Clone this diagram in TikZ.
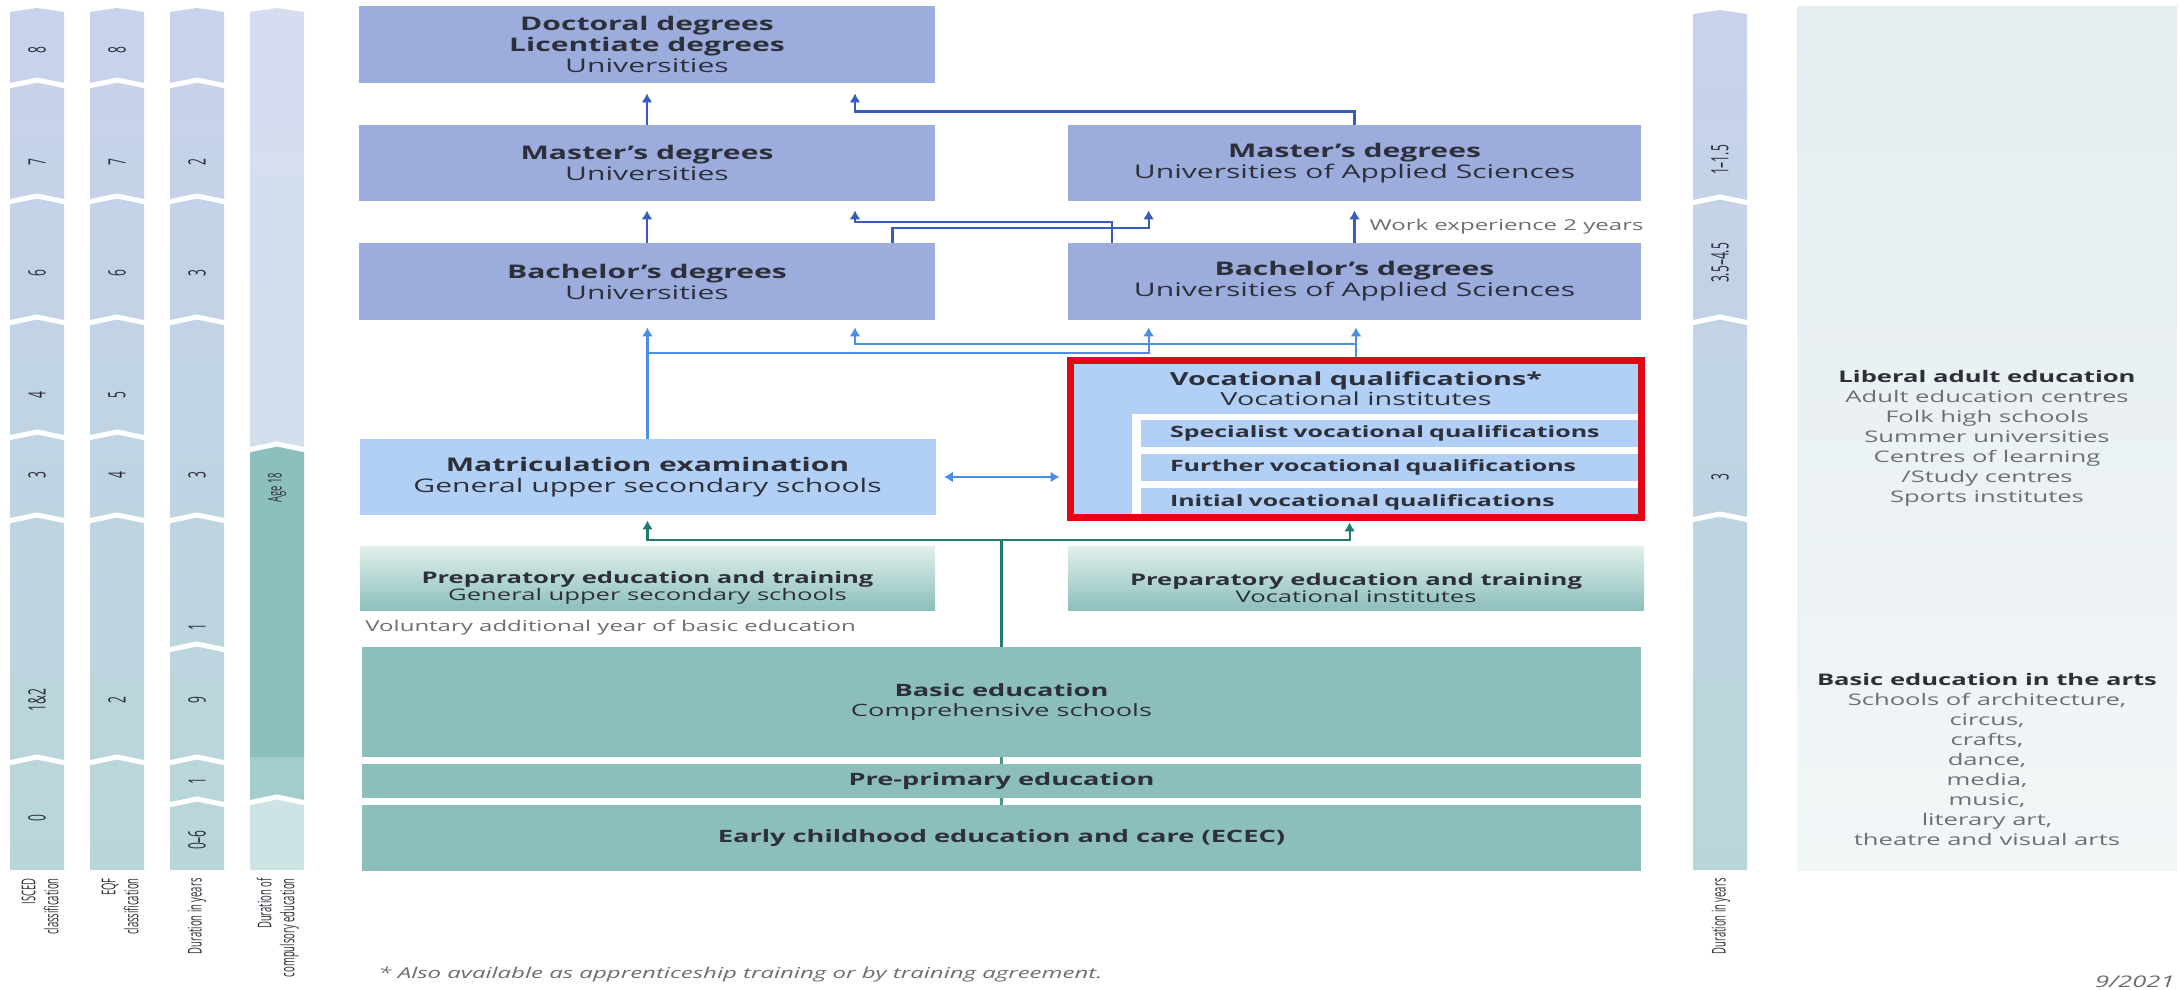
\documentclass[tikz,border=0pt]{standalone}
\usepackage{fontspec}
\setmainfont[FakeStretch=1.6]{Open Sans}
\newfontfamily\rotfont[FakeStretch=0.5]{Open Sans}
\usetikzlibrary{arrows.meta,calc,positioning}

\definecolor{ublue}{RGB}{156,173,221}
\definecolor{lblue}{RGB}{178,208,246}
\definecolor{basicteal}{RGB}{140,190,188}
\definecolor{prepTop}{RGB}{225,240,236}
\definecolor{prepBot}{RGB}{141,191,188}
\definecolor{arrD}{RGB}{55,92,190}
\definecolor{arrL}{RGB}{72,142,228}
\definecolor{arrG}{RGB}{32,122,110}
\definecolor{vred}{RGB}{227,6,19}
\definecolor{colTop}{RGB}{200,210,237}
\definecolor{colBot}{RGB}{184,214,217}
\definecolor{compTop}{RGB}{215,221,241}
\definecolor{compBot}{RGB}{207,224,230}
\definecolor{compDark}{RGB}{142,191,191}
\definecolor{compMed}{RGB}{163,204,204}
\definecolor{compLight}{RGB}{205,227,228}
\definecolor{panelTop}{RGB}{229,237,240}
\definecolor{panelBot}{RGB}{241,246,247}
\definecolor{txt}{RGB}{45,48,58}
\definecolor{greytxt}{RGB}{110,110,115}

\begin{document}
\begin{tikzpicture}[x=0.5pt,y=-0.5pt,
  ubox/.style={fill=ublue, minimum width=288pt, minimum height=38.5pt, inner sep=0pt,
    align=center, text=txt, font=\fontsize{9.4}{10.5}\selectfont},
  lbox/.style={ubox, fill=lblue},
  prepbox/.style={top color=prepTop, bottom color=prepBot, minimum width=287.5pt,
    minimum height=32pt, inner sep=0pt},
  preptext/.style={align=center, text=txt, inner sep=0pt, font=\fontsize{8}{8.8}\selectfont},
  tbox/.style={fill=basicteal, minimum width=639.5pt, inner sep=0pt, align=center,
    text=txt, font=\fontsize{8.5}{10}\selectfont},
  subrow/.style={fill=lblue, minimum width=250pt, minimum height=13.5pt, text width=221pt,
    align=left, inner xsep=0pt, inner ysep=0pt, text=txt, font=\fontsize{7.8}{9}\selectfont\bfseries},
  note/.style={text=greytxt, inner sep=0pt, font=\fontsize{7.5}{9}\selectfont},
  ptext/.style={align=center, text=greytxt, inner sep=0pt, font=\fontsize{8}{10}\selectfont},
  colnum/.style={rotate=90, inner sep=0pt, text=txt, font=\rotfont\fontsize{12}{12}\selectfont},
  collab/.style={rotate=90, anchor=east, align=right, inner sep=0pt, text=txt,
    font=\rotfont\fontsize{9.5}{11.5}\selectfont},
  chev/.style={white, line width=2.5pt},
  darr/.style={draw=arrD, line width=1.1pt, -{Latex[length=4.5pt,width=5.5pt]}},
  larr/.style={draw=arrL, line width=1.1pt, -{Latex[length=4.5pt,width=5.5pt]}},
  garr/.style={draw=arrG, line width=1.1pt, -{Latex[length=4.5pt,width=5.5pt]}}]

\useasboundingbox (0,0) rectangle (2179,990);

% scales on the left
\foreach \cx/\bl in {37/{83,199,320,435,518,760},117/{83,199,320,435,518,760},197/{83,199,320,518,647,760,802}}{
  \shade[top color=colTop, bottom color=colBot] ({\cx-27},12) -- (\cx,8) -- ({\cx+27},12) -- ({\cx+27},870) -- ({\cx-27},870) -- cycle;
  \foreach \b in \bl
    \draw[chev] ({\cx-29},{\b+3}) -- (\cx,{\b-3}) -- ({\cx+29},{\b+3});
}
% compulsory education
\shade[top color=compTop, bottom color=compBot] (250,12) -- (277,8) -- (304,12) -- (304,870) -- (250,870) -- cycle;
\fill[compDark] (250,450) -- (277,444) -- (304,450) -- (304,757) -- (250,757) -- cycle;
\fill[compMed] (250,757) rectangle (304,800);
\fill[compLight] (250,800) rectangle (304,870);
\draw[chev] (248,450) -- (277,444) -- (306,450);
\draw[chev] (248,803) -- (277,797) -- (306,803);

\foreach \y/\t [count=\i] in {50/8,162/7,273/6,395/4,475/3,700/1\&2,818/0}
  \node[colnum] (isced\i) at (37,\y) {\t};
\foreach \y/\t [count=\i] in {50/8,162/7,273/6,395/5,475/4,700/2}
  \node[colnum] (eqf\i) at (117,\y) {\t};
\foreach \y/\t [count=\i] in {162/2,273/3,475/3,627/1,700/9,781/1,840/0–6}
  \node[colnum] (dur\i) at (197,\y) {\t};
\node[colnum, font=\rotfont\fontsize{9.5}{10}\selectfont] (age) at (277,488) {Age 18};

\node[collab] (iscedL) at (40,878) {ISCED\\classification};
\node[collab] (eqfL) at (120,878) {EQF\\classification};
\node[collab] (durL) at (197,878) {Duration in years};
\node[collab] (compL) at (278,878) {Duration of\\compulsory education};

% scale on the right
\shade[top color=colTop, bottom color=colBot] (1693,14) -- (1720,10) -- (1747,14) -- (1747,870) -- (1693,870) -- cycle;
\foreach \b in {200,320,517}
  \draw[chev] (1691,{\b+3}) -- (1720,{\b-3}) -- (1749,{\b+3});
\foreach \y/\t [count=\i] in {160/1–1.5,263/3.5–4.5,477/3}
  \node[colnum] (yrs\i) at (1720,\y) {\t};
\node[collab] (yrsL) at (1721,878) {Duration in years};

% adult education panel
\shade[top color=panelTop, bottom color=panelBot] (1797,7) rectangle (2177,870);
\node[ptext] (liberal) at (1987,438) {{\color{txt}\textbf{Liberal adult education}}\\Adult education centres\\
  Folk high schools\\Summer universities\\Centres of learning\\/Study centres\\Sports institutes};
\node[ptext] (arts) at (1987,759) {{\color{txt}\textbf{Basic education in the arts}}\\Schools of architecture,\\
  circus,\\crafts,\\dance,\\media,\\music,\\literary art,\\theatre and visual arts};

% higher education
\node[ubox] (doc) at (647,44.5) {\textbf{Doctoral degrees}\\\textbf{Licentiate degrees}\\Universities};
\node[ubox, minimum height=38pt] (mastU) at (647,163) {\textbf{Master’s degrees}\\Universities};
\node[ubox, minimum height=38pt, minimum width=286.5pt] (mastUAS) at (1354.5,163)
  {\textbf{Master’s degrees}\\Universities of Applied Sciences};
\node[ubox] (bachU) at (647,281.5) {\textbf{Bachelor’s degrees}\\Universities};
\node[ubox, minimum width=286.5pt] (bachUAS) at (1354.5,281.5)
  {\textbf{Bachelor’s degrees}\\Universities of Applied Sciences};

% upper secondary
\node[lbox, minimum height=38pt] (matric) at (647.5,477)
  {\textbf{Matriculation examination}\\General upper secondary schools};
\node[lbox, minimum width=285pt, minimum height=78pt] (voc) at (1356,439) {};
\node[align=center, text=txt, inner sep=0pt, font=\fontsize{9}{10}\selectfont] (vocT)
  at ($(voc.north)+(0,28)$) {\textbf{Vocational qualifications*}\\Vocational institutes};
\fill[white] ($(voc.south east)+(-509,-103)$) rectangle (voc.south east);
\node[subrow] (spec) at (1391,433.5) {Specialist vocational qualifications};
\node[subrow] (furt) at (1391,467.5) {Further vocational qualifications};
\node[subrow, minimum height=14.5pt] (init) at (1391,502.5) {Initial vocational qualifications};

\node[prepbox] (prepG) at (647.5,578) {};
\node[preptext] (prepGt) at ($(prepG.center)+(0,10)$)
  {\textbf{Preparatory education and training}\\General upper secondary schools};
\node[prepbox, minimum width=288pt] (prepV) at (1356,578) {};
\node[preptext] (prepVt) at ($(prepV.center)+(0,10)$)
  {\textbf{Preparatory education and training}\\Vocational institutes};
\node[note, anchor=west] (volun) at (365,628) {Voluntary additional year of basic education};

% basic education
\node[tbox, minimum height=55pt] (basic) at (1001.5,702) {\textbf{Basic education}\\Comprehensive schools};
\node[tbox, minimum height=17pt] (prepri) at (1001.5,781) {\textbf{Pre-primary education}};
\node[tbox, minimum height=33pt] (ecec) at (1001.5,838) {\textbf{Early childhood education and care (ECEC)}};

% links between degrees
\draw[darr, shorten >=5pt] (mastU) -- (doc);
\draw[darr, shorten >=5pt] (mastUAS.north) -- ++(0,-13) -| ($(doc.south)+(208,0)$);
\draw[darr, shorten >=4.5pt] (bachU) -- (mastU);
\draw[darr, shorten >=4.5pt] ($(bachUAS.north west)+(44,0)$) -- ++(0,-21) -| ($(mastU.south)+(208,0)$);
\draw[darr, shorten >=4.5pt] ($(bachU.north east)+(-43,0)$) -- ++(0,-15) -| ($(mastUAS.south west)+(81,0)$);
\draw[darr, shorten >=4.5pt] (bachUAS) -- node[note, right=7pt, yshift=-2.5pt] (work) {Work experience 2 years} (mastUAS);

% links into bachelor's degrees
\draw[larr, shorten >=3.5pt] (matric.north) -- (matric.north |- bachU.south);
\draw[larr, shorten >=3.5pt] ($(matric.north)+(0,-86)$) -| ($(bachUAS.south west)+(81,0)$);
\draw[larr, shorten >=3.5pt] (voc.north) -- (voc.north |- bachUAS.south);
\draw[larr, shorten >=3.5pt] ($(voc.north)+(0,-17)$) -| ($(bachU.south)+(208,0)$);
\draw[larr, {Latex[length=4.5pt,width=5.5pt]}-{Latex[length=4.5pt,width=5.5pt]}, shorten <=4pt, shorten >=5.5pt]
  (matric.east) -- (matric.east -| voc.west);

% links from basic education
\draw[garr, shorten >=2.5pt] (basic.north) -- ++(0,-107) -| (matric.south);
\draw[garr, shorten >=2.5pt] ($(basic.north)+(0,-107)$) -| ($(voc.south west)+(279,0)$);
\draw[arrG!80, line width=1.1pt] (prepri.north) -- (basic.south);
\draw[arrG!80, line width=1.1pt] (ecec.north) -- (prepri.south);

\draw[vred, line width=3.5pt] (voc.north west) rectangle (voc.south east);

% footnote
\node[note, anchor=west, font=\itshape\fontsize{7.5}{9}\selectfont] (foot) at (378,975)
  {* Also available as apprenticeship training or by training agreement.};
\node[note, anchor=south east, font=\itshape\fontsize{8}{9}\selectfont] (date) at (2175,988) {9/2021};
\end{tikzpicture}
\end{document}
